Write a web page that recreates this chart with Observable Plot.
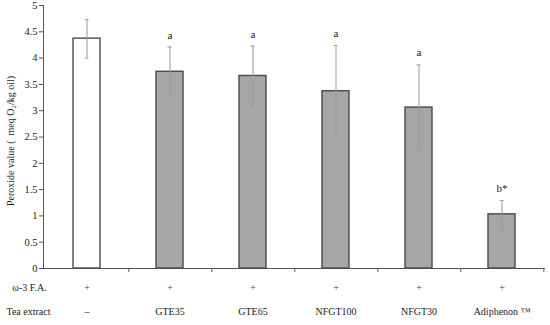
<!DOCTYPE html>
<html>
<head>
<meta charset="utf-8">
<script src="https://cdn.jsdelivr.net/npm/d3@7"></script>
<script src="https://cdn.jsdelivr.net/npm/@observablehq/plot@0.6"></script>
<style>
  html, body { margin: 0; padding: 0; background: #fff; }
  svg { display: block; }
</style>
</head>
<body>
<div id="chart"></div>
<script>
// Data
const groups = ["Control", "GTE35", "GTE65", "NFGT100", "NFGT30", "Adiphenon"];
const means = [4.37, 3.74, 3.66, 3.37, 3.06, 1.03];
const errLow = [4.00, 3.26, 3.10, 2.50, 2.27, 0.77];
const errHigh = [4.73, 4.21, 4.23, 4.24, 3.87, 1.29];
const letters = ["", "a", "a", "a", "a", "b*"];
const omega3Row = ["+", "+", "+", "+", "+", "+"];
const teaRow = ["–", "GTE35", "GTE65", "NFGT100", "NFGT30", "Adiphenon ™"];
const yTicks = [0, 0.5, 1, 1.5, 2, 2.5, 3, 3.5, 4, 4.5, 5];

const data = groups.map((g, i) => ({
  group: g, mean: means[i], lo: errLow[i], hi: errHigh[i],
  letter: letters[i], omega: omega3Row[i], tea: teaRow[i], control: i === 0
}));

const W = 550, H = 325;
const mL = 43, mR = 5, mT = 5, mB = 57;
const halfStep = (W - mL - mR) / groups.length / 2;
const font = "'Liberation Serif', 'Times New Roman', serif";

const chart = Plot.plot({
  width: W, height: H,
  marginLeft: mL, marginRight: mR, marginTop: mT, marginBottom: mB,
  style: { fontFamily: font, fontSize: "10px", color: "#222", background: "#fff" },
  x: { domain: groups, paddingInner: 0.68, paddingOuter: 0.34, axis: null },
  y: { domain: [0, 5], axis: null },
  marks: [
    // Y axis
    Plot.axisY({ ticks: yTicks, tickSize: 4, tickPadding: 2, label: null, tickFormat: d => String(d), fontSize: 10.5, stroke: "#555", fill: "#222" }),
    Plot.frame({ anchor: "left", stroke: "#555" }),
    // X axis line
    Plot.ruleY([0], { stroke: "#555", strokeWidth: 1 }),
    // bars
    Plot.barY(data, { x: "group", y: "mean", fill: d => d.control ? "#ffffff" : "#a6a6a6", stroke: "#4a4a4a", strokeWidth: 1.4 }),
    // x boundary ticks (between categories)
    Plot.ruleX(data, { x: "group", dx: halfStep, y1: 0, y2: -0.075, stroke: "#555" }),
    // error bars
    Plot.ruleX(data, { x: "group", y1: "lo", y2: "hi", stroke: "#9a9a9a", strokeWidth: 1 }),
    Plot.tickY(data, { x: "group", y: "hi", stroke: "#9a9a9a", strokeWidth: 1, insetLeft: 11.5, insetRight: 11.5 }),
    Plot.tickY(data, { x: "group", y: "lo", stroke: "#9a9a9a", strokeWidth: 1, insetLeft: 11.5, insetRight: 11.5 }),
    // letters
    Plot.text(data, { x: "group", y: "hi", text: "letter", dy: -12, fontSize: 11, fill: "#222" }),
    // rows below
    Plot.text(data, { x: "group", frameAnchor: "bottom", dy: 22, text: "omega", fontSize: 10, fill: "#444" }),
    Plot.text(data, { x: "group", frameAnchor: "bottom", dy: 46, text: "tea", fontSize: 10, fill: "#222" }),
    Plot.text(["ω-3 F.A."], { frameAnchor: "bottom-left", textAnchor: "middle", dx: -14, dy: 22, text: d => d, fontSize: 10, fill: "#222" }),
    Plot.text(["Tea extract"], { frameAnchor: "bottom-left", textAnchor: "middle", dx: -15, dy: 46, text: d => d, fontSize: 10, fill: "#222" }),
    // y label
    Plot.text(["Peroxide value (  meq O₂/kg oil)"], { frameAnchor: "left", textAnchor: "middle", dx: -33, dy: 4, rotate: -90, text: d => d, fontSize: 10, fill: "#222" })
  ]
});
document.getElementById("chart").appendChild(chart);
</script>
</body>
</html>
